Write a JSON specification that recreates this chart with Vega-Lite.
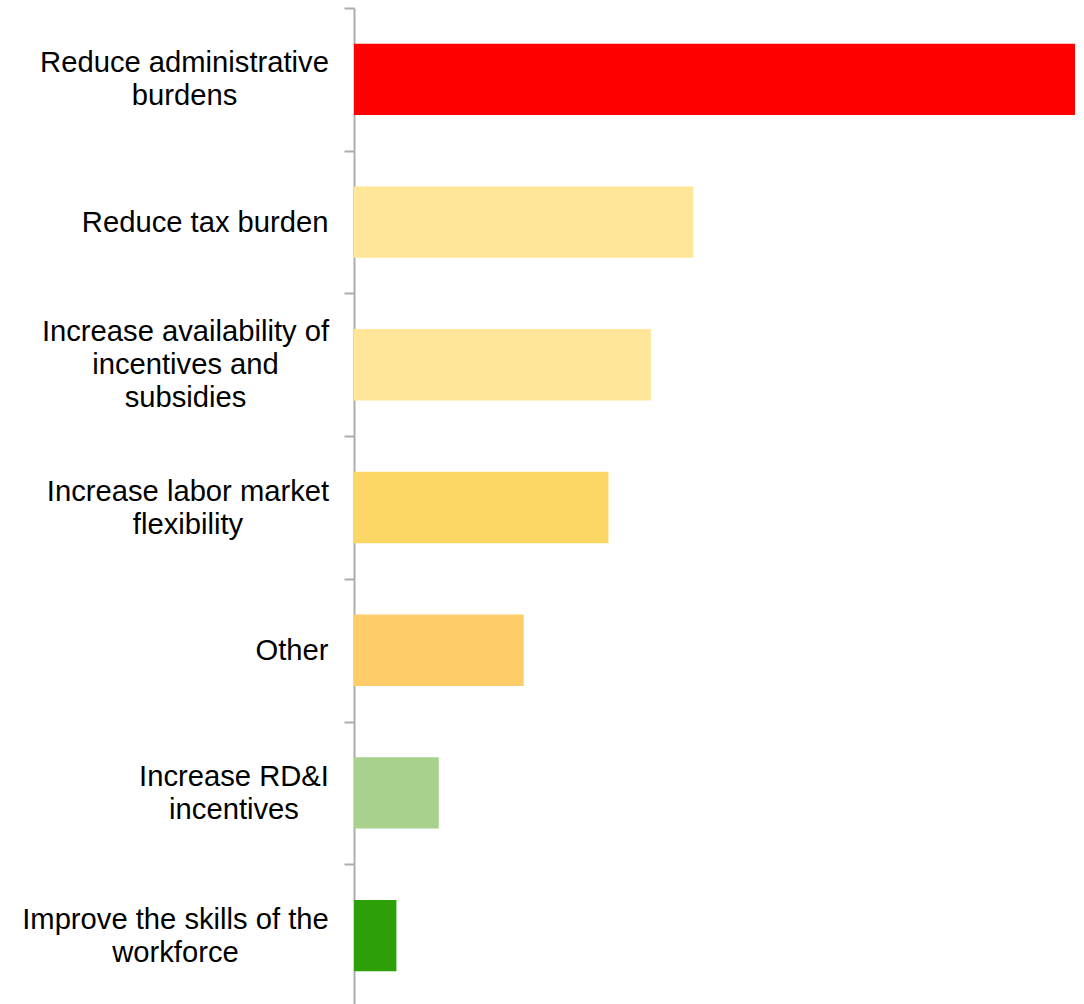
{
  "$schema": "https://vega.github.io/schema/vega-lite/v6.json",
  "autosize": {"type": "none"},
  "padding": {"left": 354, "top": 8, "right": 0, "bottom": 0},
  "width": 721,
  "height": 999,
  "background": "white",
  "config": {"view": {"stroke": null}},
  "data": {
    "values": [
      {"category": "Reduce administrative burdens", "count": 17, "color": "#FF0000"},
      {"category": "Reduce tax burden", "count": 8, "color": "#FFE699"},
      {"category": "Increase availability of incentives and subsidies", "count": 7, "color": "#FFE699"},
      {"category": "Increase labor market flexibility", "count": 6, "color": "#FDD766"},
      {"category": "Other", "count": 4, "color": "#FECC69"},
      {"category": "Increase RD&I incentives", "count": 2, "color": "#A9D18E"},
      {"category": "Improve the skills of the workforce", "count": 1, "color": "#2CA006"}
    ]
  },
  "mark": {"type": "bar", "height": {"band": 0.5}},
  "encoding": {
    "y": {
      "field": "category",
      "type": "nominal",
      "sort": null,
      "scale": {"paddingInner": 0, "paddingOuter": 0},
      "axis": {
        "title": null,
        "domainColor": "#ADADAD",
        "domainWidth": 2,
        "tickColor": "#ADADAD",
        "tickWidth": 2,
        "tickSize": 10,
        "tickBand": "extent",
        "labelFont": "Liberation Sans",
        "labelFontSize": 29.2,
        "labelColor": "#000000",
        "labelLimit": 0,
        "labelLineHeight": 33,
        "labelAlign": {"expr": "datum.value == 'Other' || datum.value == 'Reduce tax burden' ? 'right' : 'center'"},
        "labelPadding": {"expr": "datum.value == 'Reduce administrative burdens' ? 160 : datum.value == 'Increase availability of incentives and subsidies' ? 159 : datum.value == 'Increase labor market flexibility' ? 156.5 : datum.value == 'Increase RD&I incentives' ? 110.5 : datum.value == 'Improve the skills of the workforce' ? 169 : 16"},
        "labelOffset": {"expr": "datum.value == 'Other' || datum.value == 'Reduce tax burden' ? 0 : datum.value == 'Increase availability of incentives and subsidies' ? -33 : -16.5"},
        "labelExpr": "datum.value == 'Reduce administrative burdens' ? ['Reduce administrative', 'burdens'] : datum.value == 'Increase availability of incentives and subsidies' ? ['Increase availability of', 'incentives and', 'subsidies'] : datum.value == 'Increase labor market flexibility' ? ['Increase labor market', 'flexibility'] : datum.value == 'Increase RD&I incentives' ? ['Increase RD&I', 'incentives'] : datum.value == 'Improve the skills of the workforce' ? ['Improve the skills of the', 'workforce'] : datum.value"
      }
    },
    "x": {
      "field": "count",
      "type": "quantitative",
      "scale": {"domain": [0, 17], "nice": false},
      "axis": null
    },
    "color": {"field": "color", "type": "nominal", "scale": null, "legend": null}
  }
}
